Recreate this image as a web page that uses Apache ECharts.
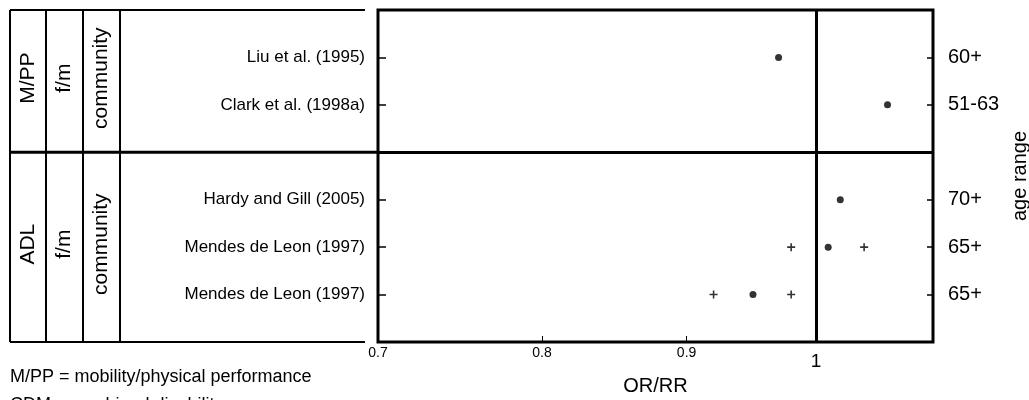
<!DOCTYPE html>
<html>
<head>
<meta charset="UTF-8">
<title>OR/RR by study</title>
<style>
  html, body { margin: 0; padding: 0; background: #fff; }
  #box { width: 1029px; height: 400px; }
</style>
</head>
<body>
<div id="box"></div>
<script src="https://cdn.jsdelivr.net/npm/echarts@6/dist/echarts.min.js"></script>
<script>
// rows of the forest plot (top to bottom), slot 3 is the group divider
const studies = ['Liu et al. (1995)', 'Clark et al. (1998a)', 'Hardy and Gill (2005)', 'Mendes de Leon (1997)', 'Mendes de Leon (1997)'];
const rows = [1, 2, 4, 5, 6];
const ageRanges = ['60+', '51-63', '70+', '65+', '65+'];
const estimates = [0.97, 1.06, 1.02, 1.01, 0.95];
const lower = [null, null, null, 0.98, 0.92];
const upper = [null, null, null, 1.04, 0.98];

// left-hand table groups
const groupOutcome = ['M/PP', 'ADL'];
const groupSex = ['f/m', 'f/m'];
const groupSetting = ['community', 'community'];
const groupBounds = [[0, 3], [3, 7]];

const xTicks = [0.7, 0.8, 0.9, 1];
const notes = ['M/PP = mobility/physical performance', 'CDM = combined disability measure'];

const FONT = '"Liberation Sans", Arial, sans-serif';
const lg = Math.log10;

const ptData = rows.map((r, i) => [lg(estimates[i]), r]);
const ciData = [];
rows.forEach((r, i) => {
  if (lower[i] != null) ciData.push([lg(lower[i]), r]);
  if (upper[i] != null) ciData.push([lg(upper[i]), r]);
});

function rowLabel(arr) {
  return function (v) {
    const i = rows.indexOf(Math.round(v));
    return i < 0 ? '' : arr[i];
  };
}

const chart = echarts.init(document.getElementById('box'));

const option = {
  animation: false,
  textStyle: { fontFamily: FONT, color: '#000' },
  grid: {
    left: 378, right: 96, top: 10, bottom: 58,
    outerBoundsMode: 'none',
    containLabel: false,
    show: true, borderColor: '#000', borderWidth: 3
  },
  xAxis: {
    type: 'value',
    min: lg(0.7),
    max: lg(1.1),
    name: 'OR/RR',
    nameLocation: 'middle',
    nameGap: 34,
    nameTextStyle: { fontSize: 20, color: '#000', fontFamily: FONT },
    axisLine: { show: false, onZero: false },
    splitLine: { show: false },
    axisTick: {
      show: true, inside: true, length: 6,
      customValues: xTicks.map(lg),
      lineStyle: { color: '#000', width: 1 }
    },
    axisLabel: {
      customValues: xTicks.map(lg),
      margin: 4,
      formatter: function (v) {
        const t = Math.round(Math.pow(10, v) * 10) / 10;
        return t === 1 ? '{b|1}' : '{s|' + t.toFixed(1) + '}';
      },
      rich: {
        s: { fontSize: 14, color: '#000', fontFamily: FONT },
        b: { fontSize: 19, color: '#000', fontFamily: FONT, padding: [6, 0, 0, 0] }
      }
    }
  },
  yAxis: [{
    type: 'value',
    position: 'left',
    inverse: true,
    min: 0, max: 7,
    axisLine: { show: false, onZero: false },
    splitLine: { show: false },
    axisTick: {
      show: true, inside: true, length: 8,
      customValues: rows,
      lineStyle: { color: '#000', width: 1.5 }
    },
    axisLabel: {
      customValues: rows,
      margin: 13,
      fontSize: 17,
      color: '#000',
      formatter: rowLabel(studies)
    }
  }, {
    type: 'value',
    position: 'right',
    inverse: true,
    min: 0, max: 7,
    name: 'age range',
    nameLocation: 'middle',
    nameRotate: 90,
    nameGap: 64,
    nameTextStyle: { fontSize: 20, color: '#000', fontFamily: FONT },
    axisLine: { show: false, onZero: false },
    splitLine: { show: false },
    axisTick: {
      show: true, inside: true, length: 6,
      customValues: rows,
      lineStyle: { color: '#000', width: 1.5 }
    },
    axisLabel: {
      customValues: rows,
      margin: 15,
      fontSize: 20,
      color: '#000',
      formatter: rowLabel(ageRanges)
    }
  }],
  series: [{
    type: 'scatter',
    name: 'estimate',
    symbol: 'circle',
    symbolSize: 7,
    itemStyle: { color: '#000' },
    data: ptData,
    markLine: {
      silent: true,
      symbol: 'none',
      label: { show: false },
      lineStyle: { color: '#000', width: 3, type: 'solid' },
      data: [{ xAxis: 0 }, { yAxis: 3 }]
    }
  }, {
    type: 'scatter',
    name: 'limits',
    symbol: 'path://M4,0H6V4H10V6H6V10H4V6H0V4H4Z',
    symbolSize: 8,
    itemStyle: { color: '#000' },
    data: ciData
  }]
};

chart.setOption(option);

// left-hand table, aligned with the plot's y scale
const yTop = chart.convertToPixel({ yAxisIndex: 0 }, 0);
const yBot = chart.convertToPixel({ yAxisIndex: 0 }, 7);
const yDiv = chart.convertToPixel({ yAxisIndex: 0 }, 3);
const plotLeft = chart.convertToPixel({ xAxisIndex: 0 }, lg(0.7));
const colX = [10, 46, 83, 120];
const colCenters = [28, 64.5, 101.5];
const lineStyle = { stroke: '#000', lineWidth: 2 };

const graphic = [];
colX.forEach(function (x) {
  graphic.push({ type: 'line', shape: { x1: x, y1: yTop, x2: x, y2: yBot }, style: lineStyle });
});
graphic.push({ type: 'line', shape: { x1: 10, y1: yTop, x2: 365, y2: yTop }, style: lineStyle });
graphic.push({ type: 'line', shape: { x1: 10, y1: yBot, x2: 365, y2: yBot }, style: lineStyle });
graphic.push({ type: 'line', shape: { x1: 10, y1: yDiv, x2: plotLeft, y2: yDiv }, style: { stroke: '#000', lineWidth: 3 } });

groupBounds.forEach(function (b, g) {
  const yc = chart.convertToPixel({ yAxisIndex: 0 }, (b[0] + b[1]) / 2) - 3;
  [groupOutcome[g], groupSex[g], groupSetting[g]].forEach(function (t, c) {
    graphic.push({
      type: 'text',
      x: colCenters[c], y: yc,
      rotation: Math.PI / 2,
      style: { text: t, fontSize: 21, fontFamily: FONT, fill: '#000', align: 'center', verticalAlign: 'middle' }
    });
  });
});

notes.forEach(function (t, i) {
  graphic.push({
    type: 'text',
    x: 10, y: 368 + i * 28,
    style: { text: t, fontSize: 18, fontFamily: FONT, fill: '#000', align: 'left', verticalAlign: 'top' }
  });
});

chart.setOption({ graphic: graphic });
</script>
</body>
</html>
